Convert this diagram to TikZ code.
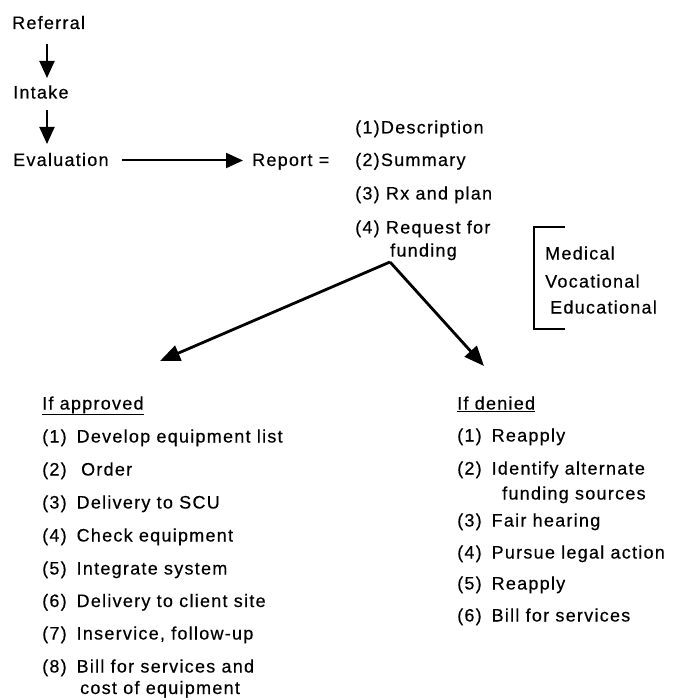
\documentclass[tikz,border=0pt]{standalone}
\usepackage{fontspec}
\setmainfont{Liberation Sans}[LetterSpace=7,FakeBold=0.4]
\usetikzlibrary{arrows.meta}
\tikzset{
  txt/.style={anchor=base west, inner sep=0pt, font=\fontsize{18}{20}\selectfont},
  arr/.style={line width=2pt, -{Triangle[length=17pt,width=15pt]}},
  diag/.style={line width=2.8pt, -{Triangle[length=20pt,width=16pt]}},
  brk/.style={line width=1.8pt}
}
\newcommand{\itm}[2]{#1\hspace{0.55em}#2}
\begin{document}
\begin{tikzpicture}[x=1pt,y=-1pt]
\useasboundingbox (0,0) rectangle (683,700);
% main chain
\node[txt] (ref) at (12,29) {Referral};
\node[txt] (intake) at (13,98.5) {Intake};
\node[txt] (eval) at (13,166) {Evaluation};
\node[txt] (report) at (252,166) {Report =};
\coordinate (a1s) at (47,44);
\coordinate (a1e) at (47,78);
\coordinate (a2s) at (47,110);
\coordinate (a2e) at (47,144);
\draw[arr] (a1s) -- (a1e);
\draw[arr] (a2s) -- (a2e);
\coordinate (hs) at (122,160.5);
\coordinate (he) at (243,160.5);
\draw[arr] (hs) -- (he);
% report contents
\node[txt] (r1) at (355,133.5) {(1)Description};
\node[txt] (r2) at (355,166) {(2)Summary};
\node[txt] (r3) at (355,199.5) {(3) Rx and plan};
\node[txt] (r4) at (355,233.5) {(4) Request for};
\node[txt] (r4b) at (390,256.5) {funding};
% funding sources bracket
\node[txt] (med) at (545,259.5) {Medical};
\node[txt] (voc) at (545,287.5) {Vocational};
\node[txt] (edu) at (550,313.5) {Educational};
\draw[brk] (565,227) -- (534,227) -- (534,329) -- (565,329);
% branches
\coordinate (apex) at (390,262);
\coordinate (tipL) at (160,361);
\coordinate (tipR) at (484,366);
\draw[diag] (apex) -- (tipL);
\draw[diag] (apex) -- (tipR);
% approved list
\node[txt] (app) at (42,409.5) {\underline{If approved}};
\node[txt] (p1) at (42,442.5) {\itm{(1)}{Develop equipment list}};
\node[txt] (p2) at (42,475.5) {\itm{(2)}{\hspace{0.25em}Order}};
\node[txt] (p3) at (42,508.5) {\itm{(3)}{Delivery to SCU}};
\node[txt] (p4) at (42,541.5) {\itm{(4)}{Check equipment}};
\node[txt] (p5) at (42,574.5) {\itm{(5)}{Integrate system}};
\node[txt] (p6) at (42,607) {\itm{(6)}{Delivery to client site}};
\node[txt] (p7) at (42,639.5) {\itm{(7)}{Inservice, follow-up}};
\node[txt] (p8) at (42,672.5) {\itm{(8)}{Bill for services and}};
\node[txt] (p8b) at (80,694) {cost of equipment};
% denied list
\node[txt] (den) at (457,409.5) {\underline{If denied}};
\node[txt] (d1) at (457,441.5) {\itm{(1)}{Reapply}};
\node[txt] (d2) at (457,474.5) {\itm{(2)}{Identify alternate}};
\node[txt] (d2b) at (502,499.5) {funding sources};
\node[txt] (d3) at (457,526.5) {\itm{(3)}{Fair hearing}};
\node[txt] (d4) at (457,558.5) {\itm{(4)}{Pursue legal action}};
\node[txt] (d5) at (457,589.5) {\itm{(5)}{Reapply}};
\node[txt] (d6) at (457,621.5) {\itm{(6)}{Bill for services}};
\end{tikzpicture}
\end{document}
